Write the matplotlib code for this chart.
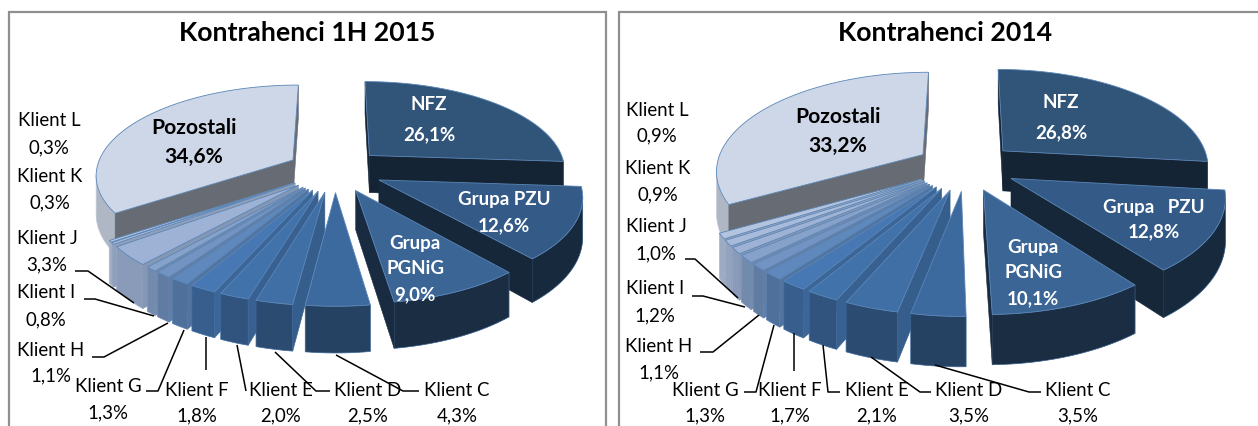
import numpy as np
import matplotlib
matplotlib.use("Agg")
import matplotlib.pyplot as plt
from matplotlib.patches import Polygon, Rectangle
from matplotlib.colors import to_rgb

plt.rcParams['font.family'] = ['Lato', 'DejaVu Sans']

names = ["NFZ", "Grupa PZU", "Grupa PGNiG", "Klient C", "Klient D", "Klient E", "Klient F",
         "Klient G", "Klient H", "Klient I", "Klient J", "Klient K", "Klient L", "Pozostali"]
values_2015 = [26.1, 12.6, 9.0, 4.3, 2.5, 2.0, 1.8, 1.3, 1.1, 0.8, 3.3, 0.3, 0.3, 34.6]
values_2014 = [26.8, 12.8, 10.1, 3.5, 3.5, 2.1, 1.7, 1.3, 1.1, 1.2, 1.0, 0.9, 0.9, 33.2]

top_colors = ["#315479", "#345A87", "#3A6594", "#3D6A9E", "#406FA6", "#4272AA", "#4778B3",
              "#5F88BD", "#7394C2", "#86A2CA", "#9DB2D4", "#A9BBDA", "#B4C4DF", "#CED7E7"]
arc_shade = [0.45, 0.45, 0.45, 0.62, 0.68, 0.74, 0.78, 0.82, 0.84, 0.85, 0.87, 0.87, 0.87, 0.85]
radial_shade = [0.43, 0.43, 0.43, 0.6, 0.85, 0.85, 0.85, 0.85, 0.85, 0.85, 0.85, 0.85, 0.85, 0.5]
draw_order = [0, 1, 2, 13, 12, 11, 10, 9, 8, 7, 6, 5, 4, 3]


def shade(c, f):
    return tuple(v * f for v in to_rgb(c))


def draw_pie(ax, values, cx, cy, R, k, H, p=0.15, e=0.245):
    fr = np.cumsum([0] + list(values)) / sum(values) * 2 * np.pi

    def proj(X, Y):
        s = 1 / (1 - p * Y)
        return cx + X * R * s, cy + Y * k * s, H * s

    for i in draw_order:
        a0, a1 = fr[i], fr[i + 1]
        mid = (a0 + a1) / 2
        ox, oy = e * np.sin(mid), -e * np.cos(mid)
        ang = np.linspace(a0, a1, max(4, int((a1 - a0) * 40)))
        X = np.r_[ox, ox + np.sin(ang)]
        Y = np.r_[oy, oy - np.cos(ang)]
        x, y, h = proj(X, Y)
        col = top_colors[i]
        arc, rad = shade(col, arc_shade[i]), shade(col, radial_shade[i])
        n = len(x)
        # extruded faces: an edge going leftwards on screen faces the viewer
        run = []
        for j in range(1, n - 1):
            if x[j + 1] < x[j]:
                run.append(j)
        if run:
            js = run + [run[-1] + 1]
            pts = [(x[q], y[q]) for q in js] + [(x[q], y[q] + h[q]) for q in js[::-1]]
            ax.add_patch(Polygon(pts, closed=True, fc=arc, ec=shade(col, 0.95), lw=0.5, zorder=2))
        for (a, b) in ((0, 1), (n - 1, 0)):
            if x[b] < x[a]:
                pts = [(x[a], y[a]), (x[b], y[b]), (x[b], y[b] + h[b]), (x[a], y[a] + h[a])]
                ax.add_patch(Polygon(pts, closed=True, fc=rad, ec=rad, lw=0.4, zorder=2))
        ax.add_patch(Polygon(np.c_[x, y], closed=True, fc=col, ec="#5A86B8", lw=0.6, zorder=2))


fig = plt.figure(figsize=(12.58, 4.26), dpi=100, facecolor="white")
ax = fig.add_axes([0, 0, 1, 1])
ax.set_xlim(0, 1258)
ax.set_ylim(426, 0)
ax.axis("off")

frame = "#8F8F8F"
ax.add_patch(Rectangle((8.5, 11.5), 597, 430, fc="white", ec=frame, lw=1.6, zorder=1))
ax.add_patch(Rectangle((618.5, 11.5), 660, 430, fc="white", ec=frame, lw=1.6, zorder=1))

draw_pie(ax, values_2015, 335, 170, 197, 89, 38)
draw_pie(ax, values_2014, 966, 166.5, 207, 98, 41)

TS = 19.2
LS = 13.4
BS = 13.5
ax.text(307, 33, "Kontrahenci 1H 2015", ha="center", va="center", fontsize=TS, fontweight="bold", color="black")
ax.text(945, 33, "Kontrahenci 2014", ha="center", va="center", fontsize=TS, fontweight="bold", color="black")


def fmt(v):
    return f"{v:.1f}%".replace(".", ",")


def two(ax, x, y1, y2, a, b, **kw):
    ax.text(x, y1, a, ha="center", va="center", zorder=5, **kw)
    ax.text(x, y2, b, ha="center", va="center", zorder=5, **kw)


outer_2015 = {3: (457, 390, 416), 4: (368, 390, 416), 5: (281, 390, 416), 6: (197, 390, 416), 7: (108, 387, 413),
              8: (51, 350, 376), 9: (46, 293, 320), 10: (47, 238, 265), 11: (50, 176, 203), 12: (49, 121, 148)}
outer_2014 = {3: (1078, 390, 416), 4: (969, 390, 416), 5: (877, 390, 416), 6: (790, 390, 416), 7: (705, 390, 416),
              8: (659, 346, 373), 9: (655, 289, 316), 10: (656, 227, 254), 11: (658, 168, 195), 12: (657, 110, 136)}
for vals, pos in ((values_2015, outer_2015), (values_2014, outer_2014)):
    for i, (x, y1, y2) in pos.items():
        two(ax, x, y1, y2, names[i], fmt(vals[i]), fontsize=LS, color="black")

leaders = [
    [(75, 271), (88, 271), (134, 303)], [(84, 299), (95, 299), (154, 316)], [(92, 357), (104, 357), (168, 323)],
    [(146, 391), (158, 391), (184, 330)], [(206, 370), (206, 337)], [(246, 391), (237, 345)],
    [(330, 391), (316, 391), (275, 352)], [(419, 391), (403, 391), (336, 355)],
    [(685, 259), (695, 259), (738, 298)], [(692, 296), (703, 296), (745, 307)], [(700, 352), (713, 352), (759, 315)],
    [(744, 392), (756, 392), (774, 325)], [(794, 371), (794, 333)], [(840, 392), (828, 392), (823, 345)],
    [(931, 392), (920, 392), (871, 357)], [(1041, 392), (1029, 392), (935, 365)],
]
for seg in leaders:
    xs, ys = zip(*seg)
    ax.plot(xs, ys, color="black", lw=1.1, zorder=4, solid_capstyle="butt")

W = dict(fontsize=BS, fontweight="bold", color="white")
B = dict(fontsize=15.2, fontweight="bold", color="black")
two(ax, 429, 105, 135, names[0], fmt(values_2015[0]), **W)
two(ax, 504, 199, 226, names[1], fmt(values_2015[1]), **W)
ax.text(415, 243, "Grupa", ha="center", va="center", zorder=5, **W)
two(ax, 415, 269, 295, "PGNiG", fmt(values_2015[2]), **W)
two(ax, 194, 128, 157, names[13], fmt(values_2015[13]), **B)
two(ax, 1061, 103, 133, names[0], fmt(values_2014[0]), **W)
two(ax, 1154, 207, 232, "Grupa   PZU", fmt(values_2014[1]), **W)
ax.text(1033, 248, "Grupa", ha="center", va="center", zorder=5, **W)
two(ax, 1033, 273, 299, "PGNiG", fmt(values_2014[2]), **W)
two(ax, 838, 117, 146, names[13], fmt(values_2014[13]), **B)

fig.savefig("out.png", dpi=100, facecolor="white")
